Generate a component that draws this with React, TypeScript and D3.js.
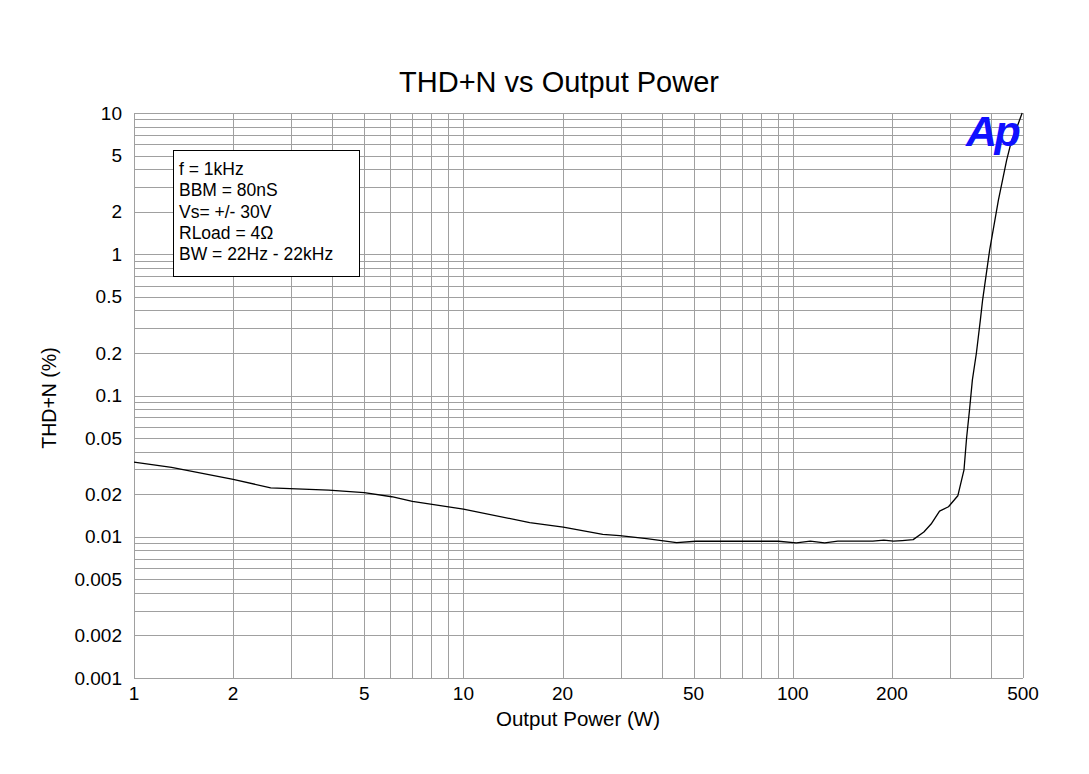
import React from "react";
import * as d3 from "d3";

const powerW = [1, 1.3, 2, 2.6, 3.9, 5, 6.06, 7, 10, 15.9, 20.1, 26.5, 29.8, 36, 44.4, 50.8, 60, 75, 90.4, 102.5, 113, 125, 137, 160, 175, 189, 202, 215, 232, 250, 263, 279, 297, 317, 331, 337, 344, 351, 361, 371, 377, 396, 421, 446, 462, 480, 497];
const thdPct = [0.0338, 0.031, 0.0255, 0.0222, 0.0214, 0.0205, 0.0192, 0.0178, 0.0157, 0.0126, 0.0117, 0.0104, 0.0102, 0.0097, 0.00908, 0.00929, 0.00929, 0.00929, 0.00929, 0.00906, 0.0093, 0.00906, 0.0093, 0.0093, 0.0093, 0.00945, 0.0093, 0.0094, 0.00954, 0.0108, 0.0123, 0.0152, 0.0163, 0.0195, 0.0297, 0.0498, 0.079, 0.129, 0.2, 0.34, 0.474, 1.07, 2.42, 4.64, 6.44, 8.0, 10];

const xTicks = [1, 2, 5, 10, 20, 50, 100, 200, 500];
const yTicks = [10, 5, 2, 1, 0.5, 0.2, 0.1, 0.05, 0.02, 0.01, 0.005, 0.002, 0.001];
const legendLines = ["f = 1kHz", "BBM = 80nS", "Vs= +/- 30V", "RLoad = 4Ω", "BW = 22Hz - 22kHz"];

const W = 1089, H = 774;
const L = 134, R = 1023, T = 113, B = 678;
const FONT = "'Liberation Sans', Arial, sans-serif";
const GRID = "#a0a0a0";

export default function App() {
  const x = d3.scaleLog().domain([1, 500]).range([L, R]);
  const y = d3.scaleLog().domain([0.001, 10]).range([B, T]);

  const xGrid: number[] = [];
  for (let d = 1; d <= 100; d *= 10) for (let m = 1; m <= 9; m++) { const v = d * m; if (v <= 500) xGrid.push(v); }
  const yGrid: number[] = [];
  for (let d = 0.001; d < 10; d *= 10) for (let m = 1; m <= 9; m++) yGrid.push(d * m);
  yGrid.push(10);

  const line = d3.line<number>().x((_, i) => x(powerW[i])).y((v) => y(v));
  const r = (v: number) => Math.round(v) + 0.5;

  return (
    <svg width={W} height={H} style={{ position: "absolute", left: 0, top: 0, background: "#fff" }} fontFamily={FONT}>
      <rect x={0} y={0} width={W} height={H} fill="#fff" />
      <g shapeRendering="crispEdges">
        {xGrid.map((v, i) => (
          <line key={"xg" + i} x1={r(x(v))} x2={r(x(v))} y1={T} y2={B} stroke={GRID} strokeWidth={1} />
        ))}
        {yGrid.map((v, i) => (
          <line key={"yg" + i} x1={L} x2={R} y1={r(y(v))} y2={r(y(v))} stroke={GRID} strokeWidth={1} />
        ))}
        <line x1={r(R)} x2={r(R)} y1={T} y2={B} stroke={GRID} />
        <line x1={L} x2={R} y1={r(B)} y2={r(B)} stroke={GRID} />
      </g>
      <path d={line(thdPct) || ""} fill="none" stroke="#000" strokeWidth={1.3} strokeLinejoin="round" />
      {yTicks.map((v, i) => (
        <text key={"yt" + i} x={122} y={y(v)} dy="0.35em" textAnchor="end" fontSize={19} fill="#000">{String(v)}</text>
      ))}
      {xTicks.map((v, i) => (
        <text key={"xt" + i} x={x(v)} y={700} textAnchor="middle" fontSize={19} fill="#000">{String(v)}</text>
      ))}
      <text x={559} y={92} textAnchor="middle" fontSize={29} fill="#000">THD+N vs Output Power</text>
      <text x={578} y={726} textAnchor="middle" fontSize={20.5} fill="#000">Output Power (W)</text>
      <text transform={`translate(56,${398}) rotate(-90)`} textAnchor="middle" fontSize={19.5} fill="#000">THD+N (%)</text>
      <rect x={173.5} y={150.5} width={186} height={126} fill="#fff" stroke="#000" strokeWidth={1} />
      {legendLines.map((s, i) => (
        <text key={"lg" + i} x={179} y={175 + i * 21.3} fontSize={17.5} fill="#000">{s}</text>
      ))}
      <text x={966} y={146} fontSize={43} fontWeight="bold" fontStyle="italic" fill="#1010ff" letterSpacing={-2.5}>Ap</text>
    </svg>
  );
}
